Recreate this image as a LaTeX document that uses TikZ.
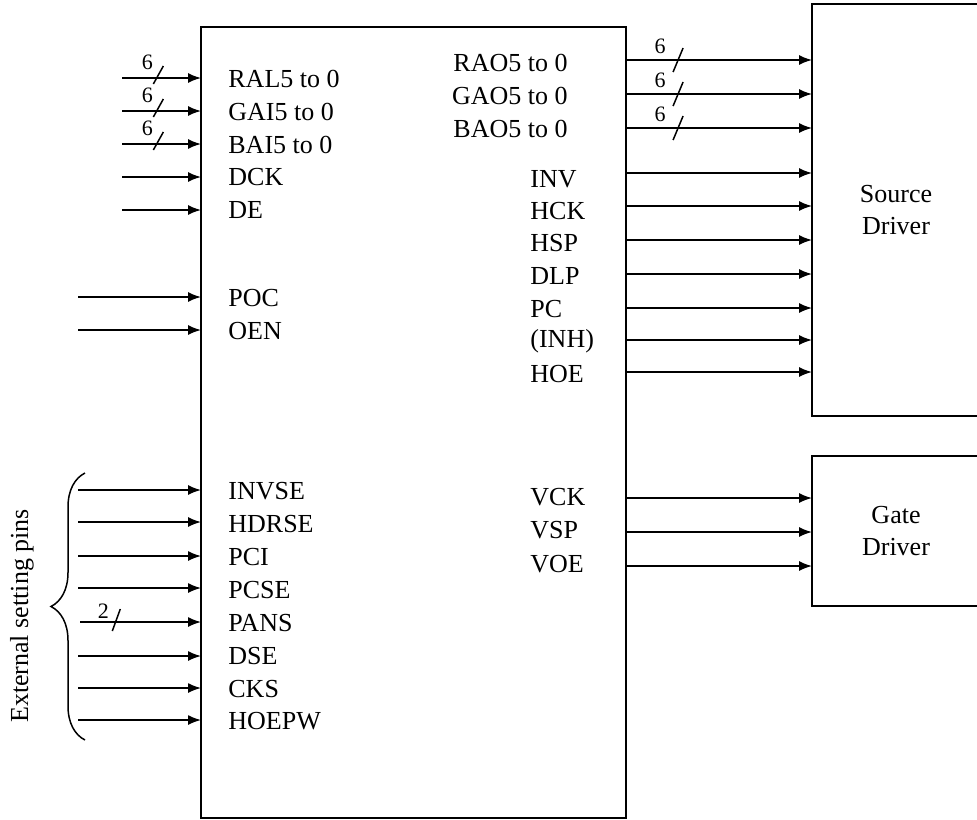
\documentclass[tikz,border=0pt]{standalone}
\usepackage{fontspec}
\setmainfont{Liberation Serif}
\usetikzlibrary{arrows.meta,decorations.pathreplacing}

\begin{document}
\begin{tikzpicture}[
    x=0.5pt, y=-0.5pt,
    font=\fontsize{13}{16}\selectfont,
    blk/.style={draw, line width=1pt, inner sep=0pt, outer sep=0pt, align=center},
    pinl/.style={anchor=west, inner sep=0pt},
    pinr/.style={anchor=east, inner sep=0pt},
    sig/.style={-{Latex[length=6.5pt,width=5pt]}, line width=0.75pt},
    slash/.style={line width=0.75pt},
    buslabel/.style={font=\fontsize{11}{12}\selectfont, inner sep=0pt}
]
\useasboundingbox (0,0) rectangle (977,819);

% --- blocks ---
\node[blk, minimum width=212.5pt, minimum height=395.5pt] (tcon) at (413.5,422.5) {};
\node[blk, minimum width=84pt, minimum height=206pt] (src) at (896,210) {Source\\Driver};
\node[blk, minimum width=84pt, minimum height=75pt] (gate) at (896,531) {Gate\\Driver};

% --- input pins ---
\coordinate (iRAL) at (122,78);  \node[pinl] (RAL) at (228,79) {RAL5 to 0};
\coordinate (iGAI) at (122,111); \node[pinl] (GAI) at (228,112) {GAI5 to 0};
\coordinate (iBAI) at (122,144); \node[pinl] (BAI) at (228,145) {BAI5 to 0};
\coordinate (iDCK) at (122,177); \node[pinl] (DCK) at (228,177) {DCK};
\coordinate (iDE) at (122,210);  \node[pinl] (DE) at (228,210) {DE};
\coordinate (iPOC) at (78,297);  \node[pinl] (POC) at (228,298) {POC};
\coordinate (iOEN) at (78,330);  \node[pinl] (OEN) at (228,331) {OEN};

% --- external setting pins ---
\coordinate (iINVSE) at (78,490); \node[pinl] (INVSE) at (228,491) {INVSE};
\coordinate (iHDRSE) at (78,522); \node[pinl] (HDRSE) at (228,524) {HDRSE};
\coordinate (iPCI) at (78,556);   \node[pinl] (PCI) at (228,557) {PCI};
\coordinate (iPCSE) at (78,588);  \node[pinl] (PCSE) at (228,590) {PCSE};
\coordinate (iPANS) at (80,622);  \node[pinl] (PANS) at (228,623) {PANS};
\coordinate (iDSE) at (78,656);   \node[pinl] (DSE) at (228,656) {DSE};
\coordinate (iCKS) at (78,688);   \node[pinl] (CKS) at (228,689) {CKS};
\coordinate (iHOEPW) at (78,720); \node[pinl] (HOEPW) at (228,721) {HOEPW};

% --- output pins ---
\coordinate (oRAO) at (tcon.east |- 0,60);  \node[pinr] (RAO) at (568,63) {RAO5 to 0};
\coordinate (oGAO) at (tcon.east |- 0,94);  \node[pinr] (GAO) at (568,96) {GAO5 to 0};
\coordinate (oBAO) at (tcon.east |- 0,128); \node[pinr] (BAO) at (568,129) {BAO5 to 0};
\coordinate (oINV) at (tcon.east |- 0,173); \node[pinl] (INV) at (530,179) {INV};
\coordinate (oHCK) at (tcon.east |- 0,206); \node[pinl] (HCK) at (530,211) {HCK};
\coordinate (oHSP) at (tcon.east |- 0,240); \node[pinl] (HSP) at (530,243) {HSP};
\coordinate (oDLP) at (tcon.east |- 0,274); \node[pinl] (DLP) at (530,276) {DLP};
\coordinate (oPC) at (tcon.east |- 0,308);  \node[pinl] (PC) at (530,309) {PC};
\coordinate (oINH) at (tcon.east |- 0,340); \node[pinl] (INH) at (530,341) {(INH)};
\coordinate (oHOE) at (tcon.east |- 0,372); \node[pinl] (HOE) at (530,374) {HOE};
\coordinate (oVCK) at (tcon.east |- 0,498); \node[pinl] (VCK) at (530,497) {VCK};
\coordinate (oVSP) at (tcon.east |- 0,532); \node[pinl] (VSP) at (530,530) {VSP};
\coordinate (oVOE) at (tcon.east |- 0,566); \node[pinl] (VOE) at (530,564) {VOE};

% arrows in
\draw[sig] (iRAL) -- coordinate[pos=0.46] (bRAL) (iRAL -| tcon.west);
\draw[sig] (iGAI) -- coordinate[pos=0.46] (bGAI) (iGAI -| tcon.west);
\draw[sig] (iBAI) -- coordinate[pos=0.46] (bBAI) (iBAI -| tcon.west);
\draw[sig] (iDCK) -- (iDCK -| tcon.west);
\draw[sig] (iDE) -- (iDE -| tcon.west);
\draw[sig] (iPOC) -- (iPOC -| tcon.west);
\draw[sig] (iOEN) -- (iOEN -| tcon.west);
\draw[sig] (iINVSE) -- (iINVSE -| tcon.west);
\draw[sig] (iHDRSE) -- (iHDRSE -| tcon.west);
\draw[sig] (iPCI) -- (iPCI -| tcon.west);
\draw[sig] (iPCSE) -- (iPCSE -| tcon.west);
\draw[sig] (iPANS) -- coordinate[pos=0.3] (bPANS) (iPANS -| tcon.west);
\draw[sig] (iDSE) -- (iDSE -| tcon.west);
\draw[sig] (iCKS) -- (iCKS -| tcon.west);
\draw[sig] (iHOEPW) -- (iHOEPW -| tcon.west);

% arrows out
\draw[sig] (oRAO) -- coordinate[pos=0.28] (bRAO) (oRAO -| src.west);
\draw[sig] (oGAO) -- coordinate[pos=0.28] (bGAO) (oGAO -| src.west);
\draw[sig] (oBAO) -- coordinate[pos=0.28] (bBAO) (oBAO -| src.west);
\draw[sig] (oINV) -- (oINV -| src.west);
\draw[sig] (oHCK) -- (oHCK -| src.west);
\draw[sig] (oHSP) -- (oHSP -| src.west);
\draw[sig] (oDLP) -- (oDLP -| src.west);
\draw[sig] (oPC) -- (oPC -| src.west);
\draw[sig] (oINH) -- (oINH -| src.west);
\draw[sig] (oHOE) -- (oHOE -| src.west);
\draw[sig] (oVCK) -- (oVCK -| gate.west);
\draw[sig] (oVSP) -- (oVSP -| gate.west);
\draw[sig] (oVOE) -- (oVOE -| gate.west);

% bus width marks
\draw[slash] (bRAL) ++(-2.5pt,-3pt) -- ++(5pt,9pt);
\draw[slash] (bGAI) ++(-2.5pt,-3pt) -- ++(5pt,9pt);
\draw[slash] (bBAI) ++(-2.5pt,-3pt) -- ++(5pt,9pt);
\draw[slash] (bPANS) ++(-2pt,-4.5pt) -- ++(4pt,11pt);
\draw[slash] (bRAO) ++(-2.5pt,-6pt) -- ++(5pt,12pt);
\draw[slash] (bGAO) ++(-2.5pt,-6pt) -- ++(5pt,12pt);
\draw[slash] (bBAO) ++(-2.5pt,-6pt) -- ++(5pt,12pt);
\node[buslabel] (nRAL) at ([shift={(-5.5pt,8pt)}]bRAL) {6};
\node[buslabel] (nGAI) at ([shift={(-5.5pt,8pt)}]bGAI) {6};
\node[buslabel] (nBAI) at ([shift={(-5.5pt,8pt)}]bBAI) {6};
\node[buslabel] (nPANS) at ([shift={(-6.5pt,5.5pt)}]bPANS) {2};
\node[buslabel] (nRAO) at ([shift={(-9pt,7pt)}]bRAO) {6};
\node[buslabel] (nGAO) at ([shift={(-9pt,7pt)}]bGAO) {6};
\node[buslabel] (nBAO) at ([shift={(-9pt,7pt)}]bBAO) {6};

% brace over the setting pins
\draw[line width=0.75pt, decorate, decoration={brace, amplitude=17pt}] (85,740) -- (85,473);
\node[rotate=90, inner sep=0pt] (ext) at (22,616) {External setting pins};

\end{tikzpicture}
\end{document}
